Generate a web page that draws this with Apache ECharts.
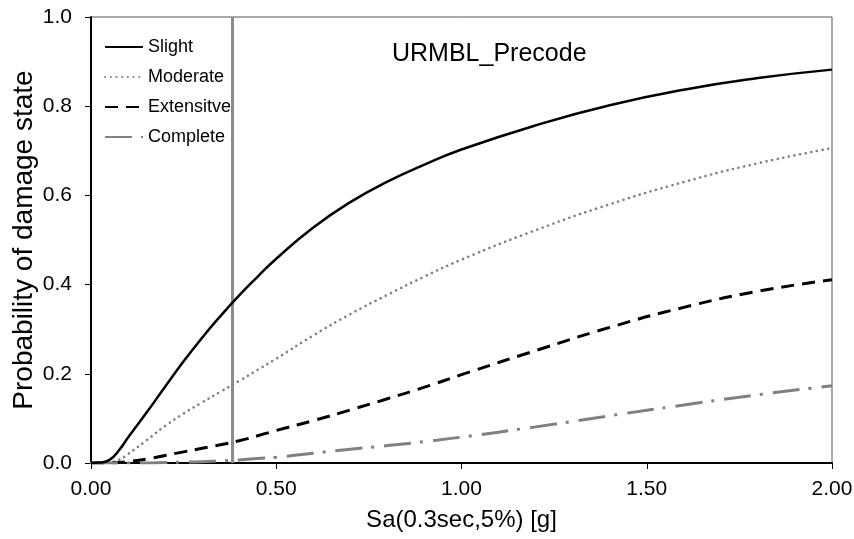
<!DOCTYPE html>
<html>
<head>
<meta charset="utf-8">
<script src="https://cdn.jsdelivr.net/npm/echarts@6/dist/echarts.min.js"></script>
<style>
  html, body { margin: 0; padding: 0; background: #fff; }
  #chart { width: 854px; height: 539px; }
</style>
</head>
<body>
<div id="chart"></div>
<script>
// Sa(0.3sec,5%) [g]
var sa = [0, 0.025, 0.05, 0.075, 0.1, 0.15, 0.2, 0.25, 0.3, 0.35, 0.4, 0.45, 0.5,
  0.6, 0.7, 0.8, 0.9, 1.0, 1.2, 1.4, 1.6, 1.8, 2.0];
// probability of damage state
var slight = [0, 0.001, 0.007, 0.028, 0.057, 0.113, 0.171, 0.228, 0.281, 0.330, 0.376, 0.418, 0.458,
  0.528, 0.585, 0.631, 0.669, 0.703, 0.757, 0.802, 0.837, 0.863, 0.882];
var moderate = [0, 0.0003, 0.002, 0.007, 0.02, 0.051, 0.083, 0.111, 0.136, 0.16, 0.184, 0.209, 0.234,
  0.286, 0.334, 0.377, 0.418, 0.456, 0.522, 0.58, 0.63, 0.672, 0.706];
var extensive = [0, 0, 0.0005, 0.001, 0.003, 0.009, 0.017, 0.025, 0.033, 0.041, 0.05, 0.061, 0.073,
  0.095, 0.119, 0.144, 0.17, 0.198, 0.252, 0.304, 0.349, 0.385, 0.411];
var complete = [0, 0, 0, 0, 0, 0, 0.001, 0.002, 0.003, 0.005, 0.007, 0.01, 0.013,
  0.022, 0.031, 0.039, 0.048, 0.058, 0.081, 0.106, 0.13, 0.153, 0.173];
var names = ["Slight", "Moderate", "Extensive", "Complete"];
var legendNames = ["Slight", "Moderate", "Extensitve", "Complete"];
var markSa = 0.38;

function pairs(ys) {
  return sa.map(function (x, i) { return [x, ys[i]]; });
}

var chart = echarts.init(document.getElementById("chart"));
var font = "Liberation Sans, Arial, sans-serif";

chart.setOption({
  animation: false,
  textStyle: { fontFamily: font },
  title: {
    text: "URMBL_Precode",
    left: 387,
    top: 37,
    textStyle: { fontSize: 25, fontWeight: "normal", color: "#000", fontFamily: font }
  },
  legend: {
    orient: "vertical",
    left: 99,
    top: 33,
    itemWidth: 38,
    itemHeight: 14,
    itemGap: 12,
    itemStyle: { opacity: 0 },
    textStyle: { fontSize: 18, color: "#000", fontFamily: font },
    formatter: function (n) { return legendNames[names.indexOf(n)]; },
    data: names
  },
  grid: {
    left: 91, right: 22, top: 17, bottom: 76,
    outerBoundsMode: "none",
    containLabel: false,
    show: true,
    borderColor: "#555",
    borderWidth: 1
  },
  xAxis: {
    type: "value",
    min: 0,
    max: 2,
    interval: 0.5,
    name: "Sa(0.3sec,5%) [g]",
    nameLocation: "middle",
    nameGap: 45,
    nameMoveOverlap: false,
    nameTextStyle: { fontSize: 24, color: "#000", fontFamily: font },
    axisLine: { lineStyle: { color: "#000", width: 2 } },
    axisTick: { inside: false, length: 6, lineStyle: { color: "#000", width: 1 } },
    axisLabel: {
      margin: 16,
      fontSize: 21,
      color: "#000",
      formatter: function (v) { return v.toFixed(2); }
    },
    splitLine: { show: false }
  },
  yAxis: {
    type: "value",
    min: 0,
    max: 1,
    interval: 0.2,
    name: "Probability of damage state",
    nameLocation: "middle",
    nameGap: 53,
    nameMoveOverlap: false,
    nameTextStyle: { fontSize: 28, color: "#000", fontFamily: font },
    axisLine: { show: true, lineStyle: { color: "#000", width: 2 } },
    axisTick: { show: true, inside: false, length: 6, lineStyle: { color: "#000", width: 1 } },
    axisLabel: {
      margin: 19,
      fontSize: 21,
      color: "#000",
      formatter: function (v) { return v.toFixed(1); }
    },
    splitLine: { show: false }
  },
  series: [
    {
      name: "Slight",
      type: "line",
      data: pairs(slight),
      smooth: true,
      symbol: "none",
      z: 5,
      lineStyle: { color: "#000", width: 2.5 },
      itemStyle: { color: "#000" },
      markLine: {
        silent: true,
        symbol: "none",
        label: { show: false },
        lineStyle: { color: "#8c8c8c", width: 3, type: "solid" },
        data: [{ xAxis: markSa }]
      }
    },
    {
      name: "Moderate",
      type: "line",
      data: pairs(moderate),
      smooth: true,
      symbol: "none",
      lineStyle: { color: "#808080", width: 2.6, type: [0.1, 5.6], cap: "round" },
      itemStyle: { color: "#808080" }
    },
    {
      name: "Extensive",
      type: "line",
      data: pairs(extensive),
      smooth: true,
      symbol: "none",
      lineStyle: { color: "#000", width: 3, type: [13, 8] },
      itemStyle: { color: "#000" }
    },
    {
      name: "Complete",
      type: "line",
      data: pairs(complete),
      smooth: true,
      symbol: "none",
      lineStyle: { color: "#808080", width: 3, type: [27, 9, 3, 10] },
      itemStyle: { color: "#808080" }
    }
  ]
});
</script>
</body>
</html>
